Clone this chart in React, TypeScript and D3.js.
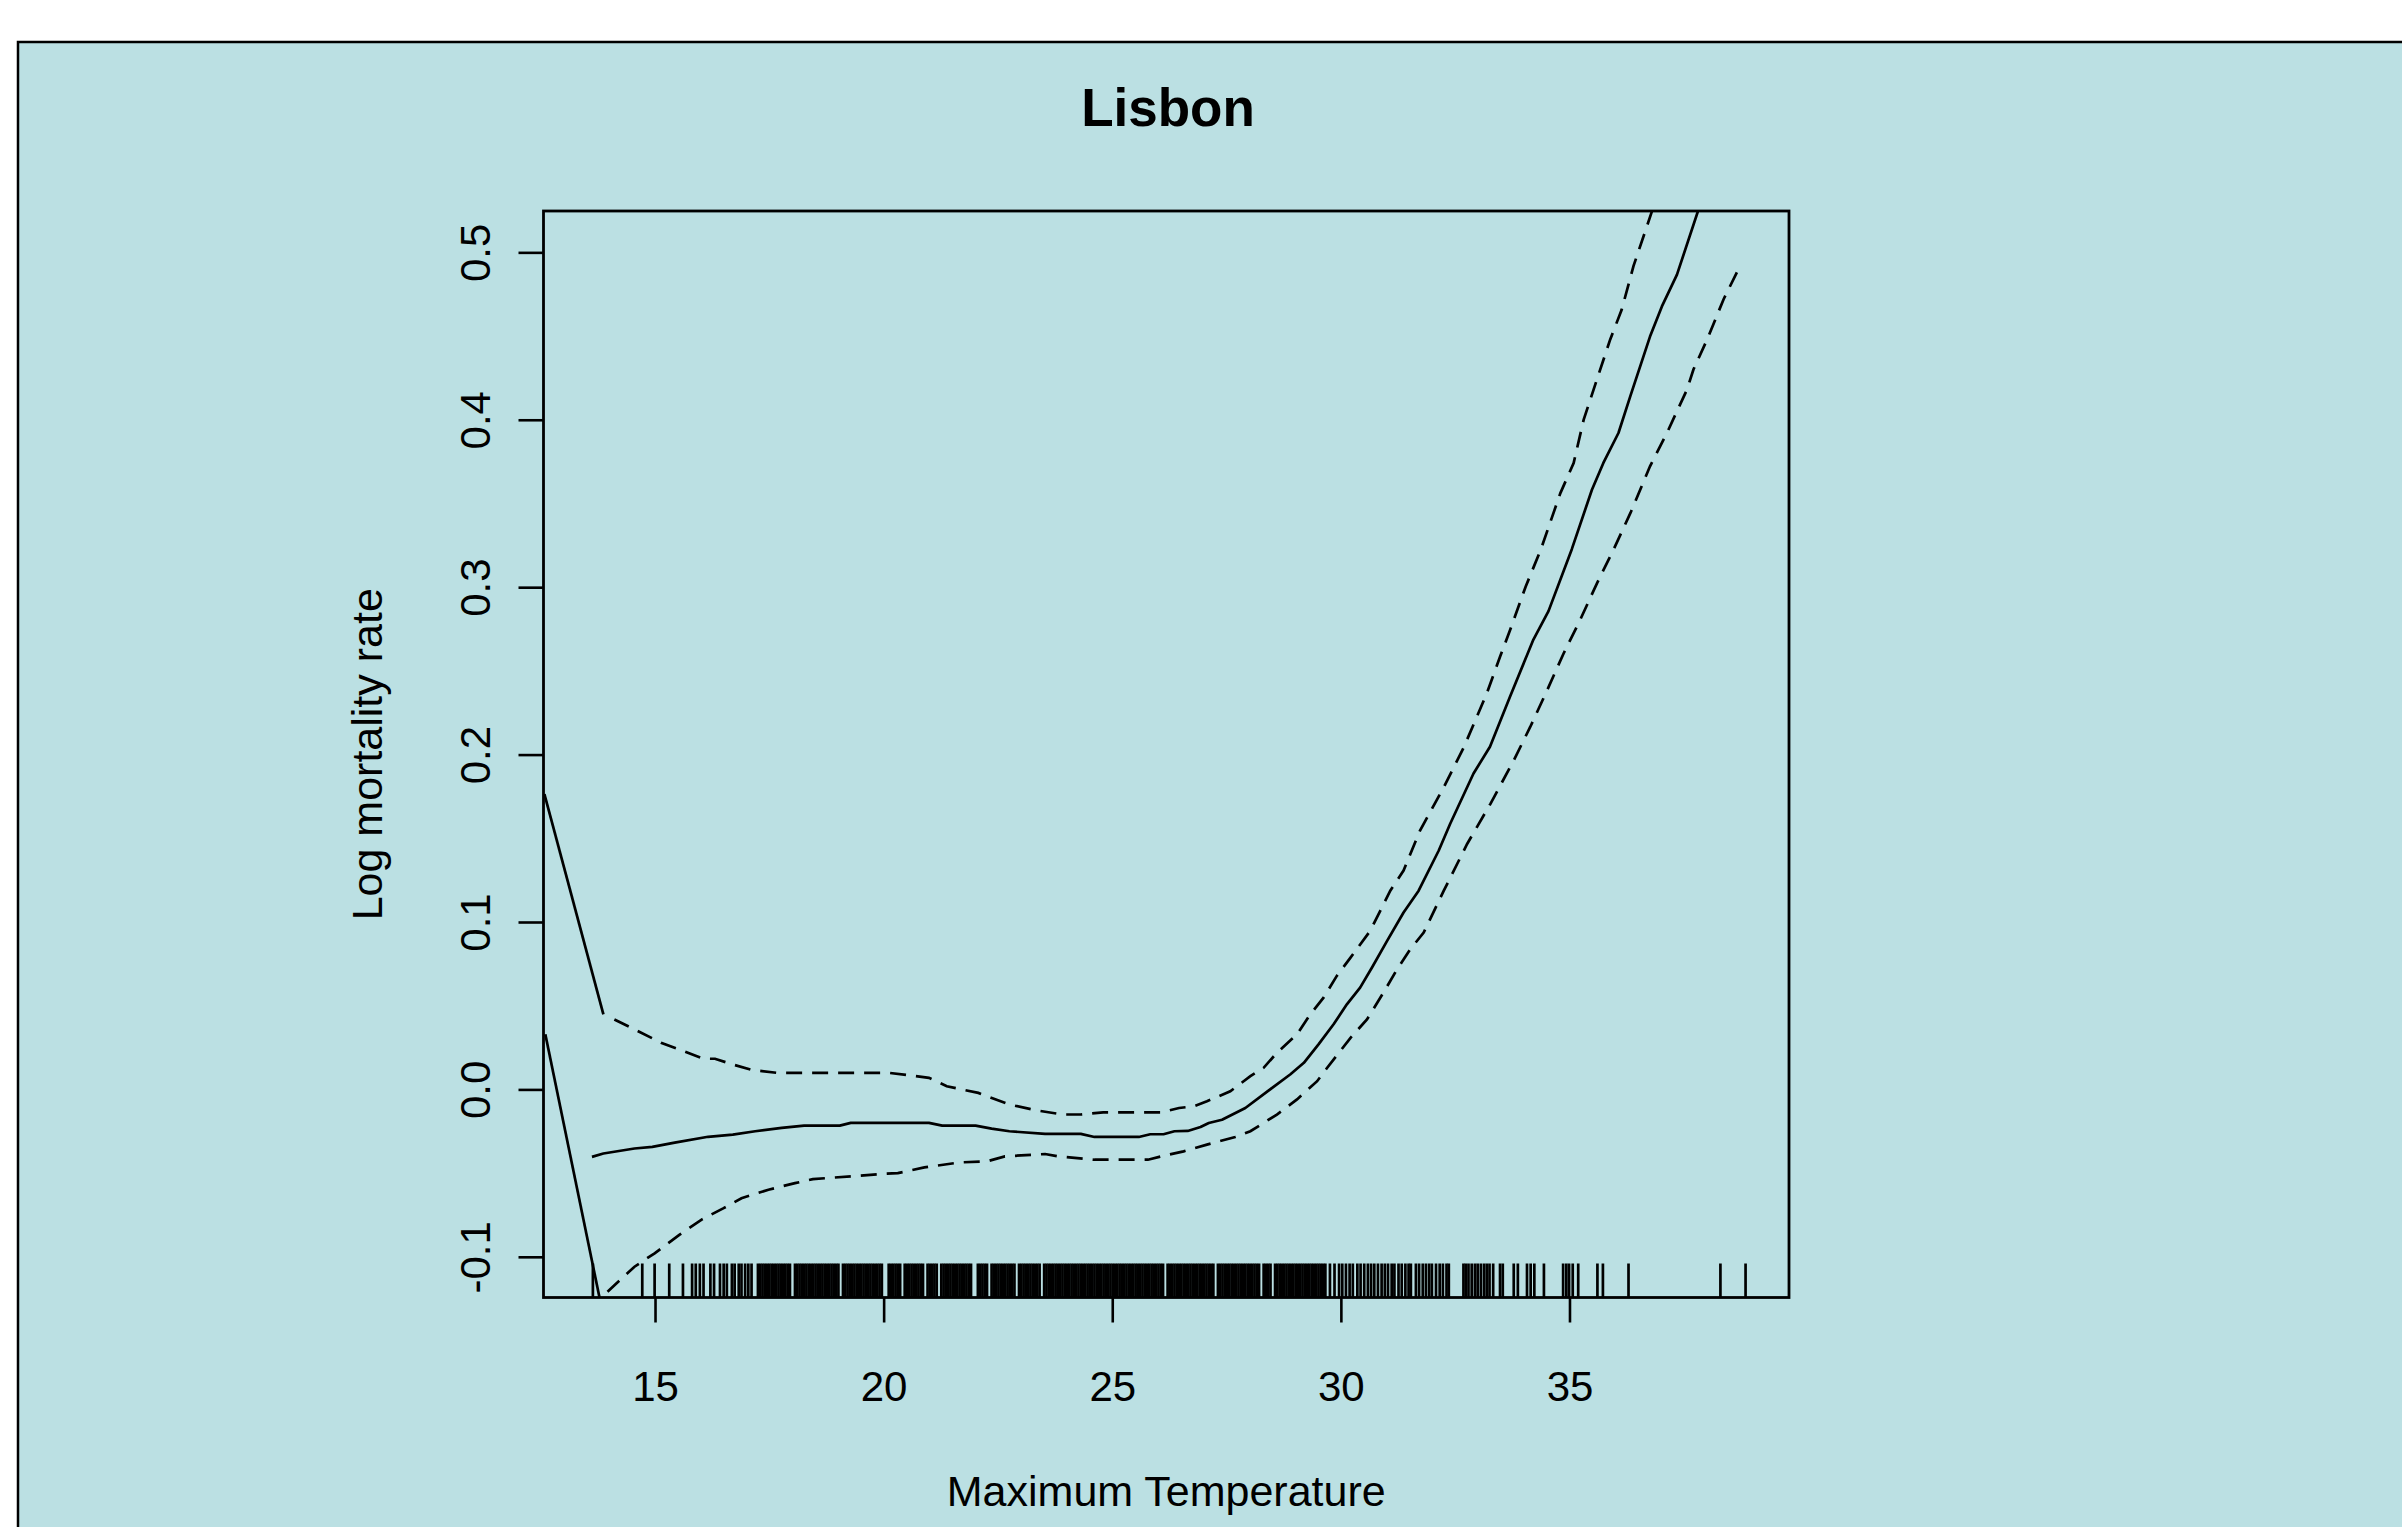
import React from 'react';
import * as d3 from 'd3';

const W = 2402;
const H = 1527;

const title = 'Lisbon';
const xTitle = 'Maximum Temperature';
const yTitle = 'Log mortality rate';

const xTicks = [15, 20, 25, 30, 35];
const yTicks = [-0.1, 0.0, 0.1, 0.2, 0.3, 0.4, 0.5];
const yTickLabels = ['-0.1', '0.0', '0.1', '0.2', '0.3', '0.4', '0.5'];

// axis limits
const xLim = [12.55, 39.79];
const yLim = [-0.124, 0.525];

// fitted smooth [temperature, log rate]
const fit: [number, number][] = [
  [13.61, -0.040], [13.86, -0.038], [14.54, -0.035], [14.93, -0.034], [15.42, -0.0315],
  [16.15, -0.028], [16.69, -0.0267], [17.18, -0.0247], [17.76, -0.0227], [18.25, -0.0213],
  [19.03, -0.0213], [19.27, -0.0197], [20.98, -0.0197], [21.27, -0.0213], [22.0, -0.0213],
  [22.35, -0.0231], [22.74, -0.0247], [23.52, -0.0263], [24.3, -0.0263], [24.6, -0.0281],
  [25.57, -0.0281], [25.82, -0.0265], [26.11, -0.0265], [26.35, -0.0247], [26.64, -0.0245],
  [26.92, -0.0222], [27.1, -0.0198], [27.39, -0.0178], [27.9, -0.0108], [28.34, -0.0018],
  [28.88, 0.0092], [29.18, 0.0162], [29.5, 0.0272], [29.83, 0.0392], [30.12, 0.0511],
  [30.41, 0.0611], [30.67, 0.0731], [31.0, 0.089], [31.36, 0.106], [31.69, 0.119],
  [32.13, 0.143], [32.38, 0.159], [32.89, 0.189], [33.25, 0.205], [33.69, 0.235],
  [34.2, 0.269], [34.53, 0.286], [35.04, 0.323], [35.48, 0.3585], [35.73, 0.3745],
  [36.06, 0.3924], [36.32, 0.4144], [36.75, 0.45], [37.01, 0.468], [37.34, 0.487],
  [37.8, 0.525],
];

// upper band (fit + 2 se)
const upper: [number, number][] = [
  [14.1, 0.0421], [14.54, 0.0362], [15.12, 0.0282], [15.61, 0.0232], [16.05, 0.0186],
  [16.3, 0.0186], [16.69, 0.0152], [17.13, 0.0118], [17.66, 0.0102], [20.1, 0.0102],
  [20.58, 0.0086], [20.98, 0.0072], [21.37, 0.0022], [22.06, -0.0018], [22.74, -0.0087],
  [23.33, -0.0122], [23.91, -0.0147], [24.3, -0.0147], [24.79, -0.0134], [26.06, -0.0134],
  [26.45, -0.0108], [26.77, -0.0098], [27.06, -0.0068], [27.57, -0.0008], [28.01, 0.0082],
  [28.3, 0.0132], [28.59, 0.0222], [29.03, 0.0332], [29.32, 0.0451], [29.61, 0.0551],
  [29.9, 0.0681], [30.2, 0.079], [30.63, 0.095], [30.85, 0.107], [31.07, 0.119],
  [31.36, 0.131], [31.72, 0.1549], [32.24, 0.1808], [32.68, 0.2048], [33.18, 0.2368],
  [33.47, 0.2587], [33.69, 0.2747], [34.03, 0.3006], [34.36, 0.3226], [34.79, 0.3565],
  [35.08, 0.3745], [35.3, 0.4004], [35.59, 0.4244], [35.88, 0.4483], [36.13, 0.466],
  [36.39, 0.4922], [36.79, 0.5246],
];

// lower band (fit - 2 se)
const lower: [number, number][] = [
  [13.95, -0.1205], [14.54, -0.1056], [14.98, -0.0976], [15.52, -0.0866], [16.0, -0.0776],
  [16.49, -0.0706], [16.88, -0.0647], [17.47, -0.0596], [18.05, -0.0557], [18.44, -0.0533],
  [20.0, -0.0501], [20.3, -0.0497], [20.88, -0.0463], [21.66, -0.0433], [22.25, -0.0427],
  [22.64, -0.0397], [23.52, -0.0383], [23.81, -0.0397], [24.6, -0.0417], [25.77, -0.0417],
  [26.06, -0.0397], [26.55, -0.0367], [27.06, -0.0327], [27.68, -0.0281], [28.01, -0.0247],
  [28.59, -0.0147], [29.03, -0.0057], [29.47, 0.0052], [29.69, 0.0132], [30.2, 0.0311],
  [30.56, 0.0421], [30.92, 0.0581], [31.22, 0.0721], [31.51, 0.0841], [31.8, 0.094],
  [32.24, 0.119], [32.75, 0.1469], [33.26, 0.1709], [33.77, 0.1968], [34.13, 0.2168],
  [34.5, 0.2387], [34.86, 0.2607], [35.22, 0.2806], [35.59, 0.3026], [35.95, 0.3226],
  [36.32, 0.3445], [36.75, 0.3725], [37.12, 0.3924], [37.56, 0.4184], [37.7, 0.4303],
  [38.0, 0.4483], [38.36, 0.4723], [38.72, 0.4922],
];

// the two short solid strokes at the left edge
const leftStrokes: [number, number][][] = [
  [[12.57, 0.1767], [13.86, 0.0451]],
  [[12.59, 0.0332], [13.78, -0.1247]],
];

// rug of observed maximum temperatures
const rug = [
  13.63, 14.71, 14.98, 15.30, 15.60, 15.80, 15.88, 15.97, 16.05, 16.20, 16.28, 16.41, 16.49,
  16.56, 16.67, 16.73, 16.82, 16.88, 16.96, 17.03, 17.10, 17.24, 17.29, 17.34, 17.39, 17.44,
  17.49, 17.54, 17.59, 17.64, 17.69, 17.74, 17.79, 17.84, 17.89, 17.94,
  18.05, 18.10, 18.15, 18.20, 18.25, 18.30, 18.35, 18.40, 18.45, 18.50, 18.55, 18.60, 18.65,
  18.70, 18.75, 18.80, 18.85, 18.90, 18.95, 19.00,
  19.10, 19.15, 19.20, 19.25, 19.30, 19.35, 19.40, 19.45, 19.50, 19.55, 19.60, 19.65, 19.70,
  19.75, 19.80, 19.85, 19.90, 19.95,
  20.10, 20.15, 20.20, 20.25, 20.30, 20.35,
  20.45, 20.50, 20.55, 20.60, 20.65, 20.70, 20.75, 20.80, 20.85,
  20.95, 21.00, 21.05, 21.10, 21.15,
  21.25, 21.30, 21.35, 21.40, 21.45, 21.50, 21.55, 21.60, 21.65, 21.70, 21.75, 21.80, 21.85, 21.90,
  22.05, 22.10, 22.15, 22.20, 22.25,
  22.35, 22.40, 22.45, 22.50, 22.55, 22.60, 22.65, 22.70, 22.75, 22.80, 22.85,
  22.95, 23.00, 23.05, 23.10, 23.15, 23.20, 23.25, 23.30, 23.35, 23.40,
  23.50, 23.55, 23.60, 23.65, 23.70, 23.75, 23.80, 23.85, 23.90, 23.95, 24.00, 24.05, 24.10,
  24.15, 24.20, 24.25, 24.30, 24.35, 24.40, 24.45, 24.50, 24.55, 24.60, 24.65, 24.70, 24.75,
  24.80, 24.85, 24.90, 24.95, 25.00, 25.05, 25.10, 25.15, 25.20, 25.25, 25.30, 25.35, 25.40,
  25.45, 25.50, 25.55, 25.60, 25.65, 25.70, 25.75, 25.80, 25.85, 25.90, 25.95, 26.00, 26.05, 26.10,
  26.20, 26.25, 26.30, 26.35, 26.40, 26.45, 26.50, 26.55, 26.60, 26.65, 26.70, 26.75, 26.80,
  26.85, 26.90, 26.95, 27.00, 27.05, 27.10, 27.15, 27.20,
  27.30, 27.35, 27.40, 27.45, 27.50, 27.55, 27.60, 27.65, 27.70, 27.75, 27.80, 27.85, 27.90,
  27.95, 28.00, 28.05, 28.10, 28.15, 28.20, 28.30, 28.35, 28.40, 28.45,
  28.55, 28.60, 28.65, 28.70, 28.75, 28.80, 28.85, 28.90, 28.95, 29.00, 29.05, 29.10, 29.15,
  29.20, 29.25, 29.30, 29.35, 29.40, 29.45, 29.50, 29.55, 29.60, 29.65,
  29.75, 29.85, 29.95, 30.02, 30.10, 30.18, 30.25, 30.35, 30.42, 30.50, 30.58, 30.65, 30.72,
  30.80, 30.88, 30.95, 31.02, 31.10, 31.16, 31.25, 31.32, 31.40, 31.47, 31.52, 31.63, 31.70,
  31.78, 31.85, 31.92, 31.98, 32.07, 32.15, 32.22, 32.30, 32.35,
  32.67, 32.72, 32.78, 32.85, 32.92, 32.98, 33.05, 33.12, 33.18, 33.24, 33.32, 33.47, 33.53,
  33.77, 33.86, 34.06, 34.14, 34.22, 34.43, 34.85, 34.92, 34.98, 35.06, 35.18, 35.60, 35.72,
  36.28, 38.29, 38.84,
];

const FONT = '"Liberation Sans", Arial, Helvetica, sans-serif';

export default function App() {
  const box = { left: 543.5, right: 1789, top: 211, bottom: 1297.5 };

  const x = d3.scaleLinear().domain(xLim).range([box.left, box.right]);
  const y = d3.scaleLinear().domain(yLim).range([box.bottom, box.top]);

  const line = d3.line<[number, number]>()
    .x(d => x(d[0]))
    .y(d => y(d[1]));

  const tickLen = 25;
  const rugLen = 34;
  const dash = '16 10';

  return (
    <svg width={W} height={H} style={{ position: 'absolute', left: 0, top: 0, display: 'block' }}>
      <defs>
        <clipPath id="plotClip">
          <rect x={box.left} y={box.top} width={box.right - box.left} height={box.bottom - box.top} />
        </clipPath>
      </defs>
      <rect x={0} y={0} width={W} height={H} fill="#ffffff" />
      <rect x={18} y={42} width={W} height={H} fill="#bbe0e3" stroke="#000" strokeWidth={2.5} />

      {/* title */}
      <text x={1168} y={126} textAnchor="middle" fontFamily={FONT} fontWeight="bold" fontSize={53}>
        {title}
      </text>

      {/* curves */}
      <g clipPath="url(#plotClip)" fill="none" stroke="#000" strokeWidth={2.7}>
        {leftStrokes.map((s, i) => <path key={i} d={line(s) || ''} />)}
        <path d={line(fit) || ''} strokeLinejoin="round" />
        <path d={line(upper) || ''} strokeDasharray={dash} />
        <path d={line(lower) || ''} strokeDasharray={dash} />
      </g>

      {/* rug */}
      <g stroke="#000" strokeWidth={2.7}>
        {rug.map((t, i) => (
          <line key={i} x1={x(t)} x2={x(t)} y1={box.bottom} y2={box.bottom - rugLen} />
        ))}
      </g>

      {/* box */}
      <rect x={box.left} y={box.top} width={box.right - box.left} height={box.bottom - box.top}
        fill="none" stroke="#000" strokeWidth={2.8} />

      {/* x axis */}
      <g stroke="#000" strokeWidth={2.6}>
        {xTicks.map(t => (
          <line key={t} x1={x(t)} x2={x(t)} y1={box.bottom} y2={box.bottom + tickLen} />
        ))}
      </g>
      {xTicks.map(t => (
        <text key={t} x={x(t)} y={1401} textAnchor="middle" fontFamily={FONT} fontSize={42}>{t}</text>
      ))}
      <text x={(box.left + box.right) / 2} y={1506} textAnchor="middle" fontFamily={FONT} fontSize={43}>
        {xTitle}
      </text>

      {/* y axis */}
      <g stroke="#000" strokeWidth={2.6}>
        {yTicks.map(v => (
          <line key={v} x1={box.left} x2={box.left - tickLen} y1={y(v)} y2={y(v)} />
        ))}
      </g>
      {yTicks.map((v, i) => (
        <text key={v} transform={`translate(490,${y(v)}) rotate(-90)`} textAnchor="middle"
          fontFamily={FONT} fontSize={42}>{yTickLabels[i]}</text>
      ))}
      <text transform={`translate(382,${(box.top + box.bottom) / 2}) rotate(-90)`} textAnchor="middle"
        fontFamily={FONT} fontSize={43}>{yTitle}</text>
    </svg>
  );
}
